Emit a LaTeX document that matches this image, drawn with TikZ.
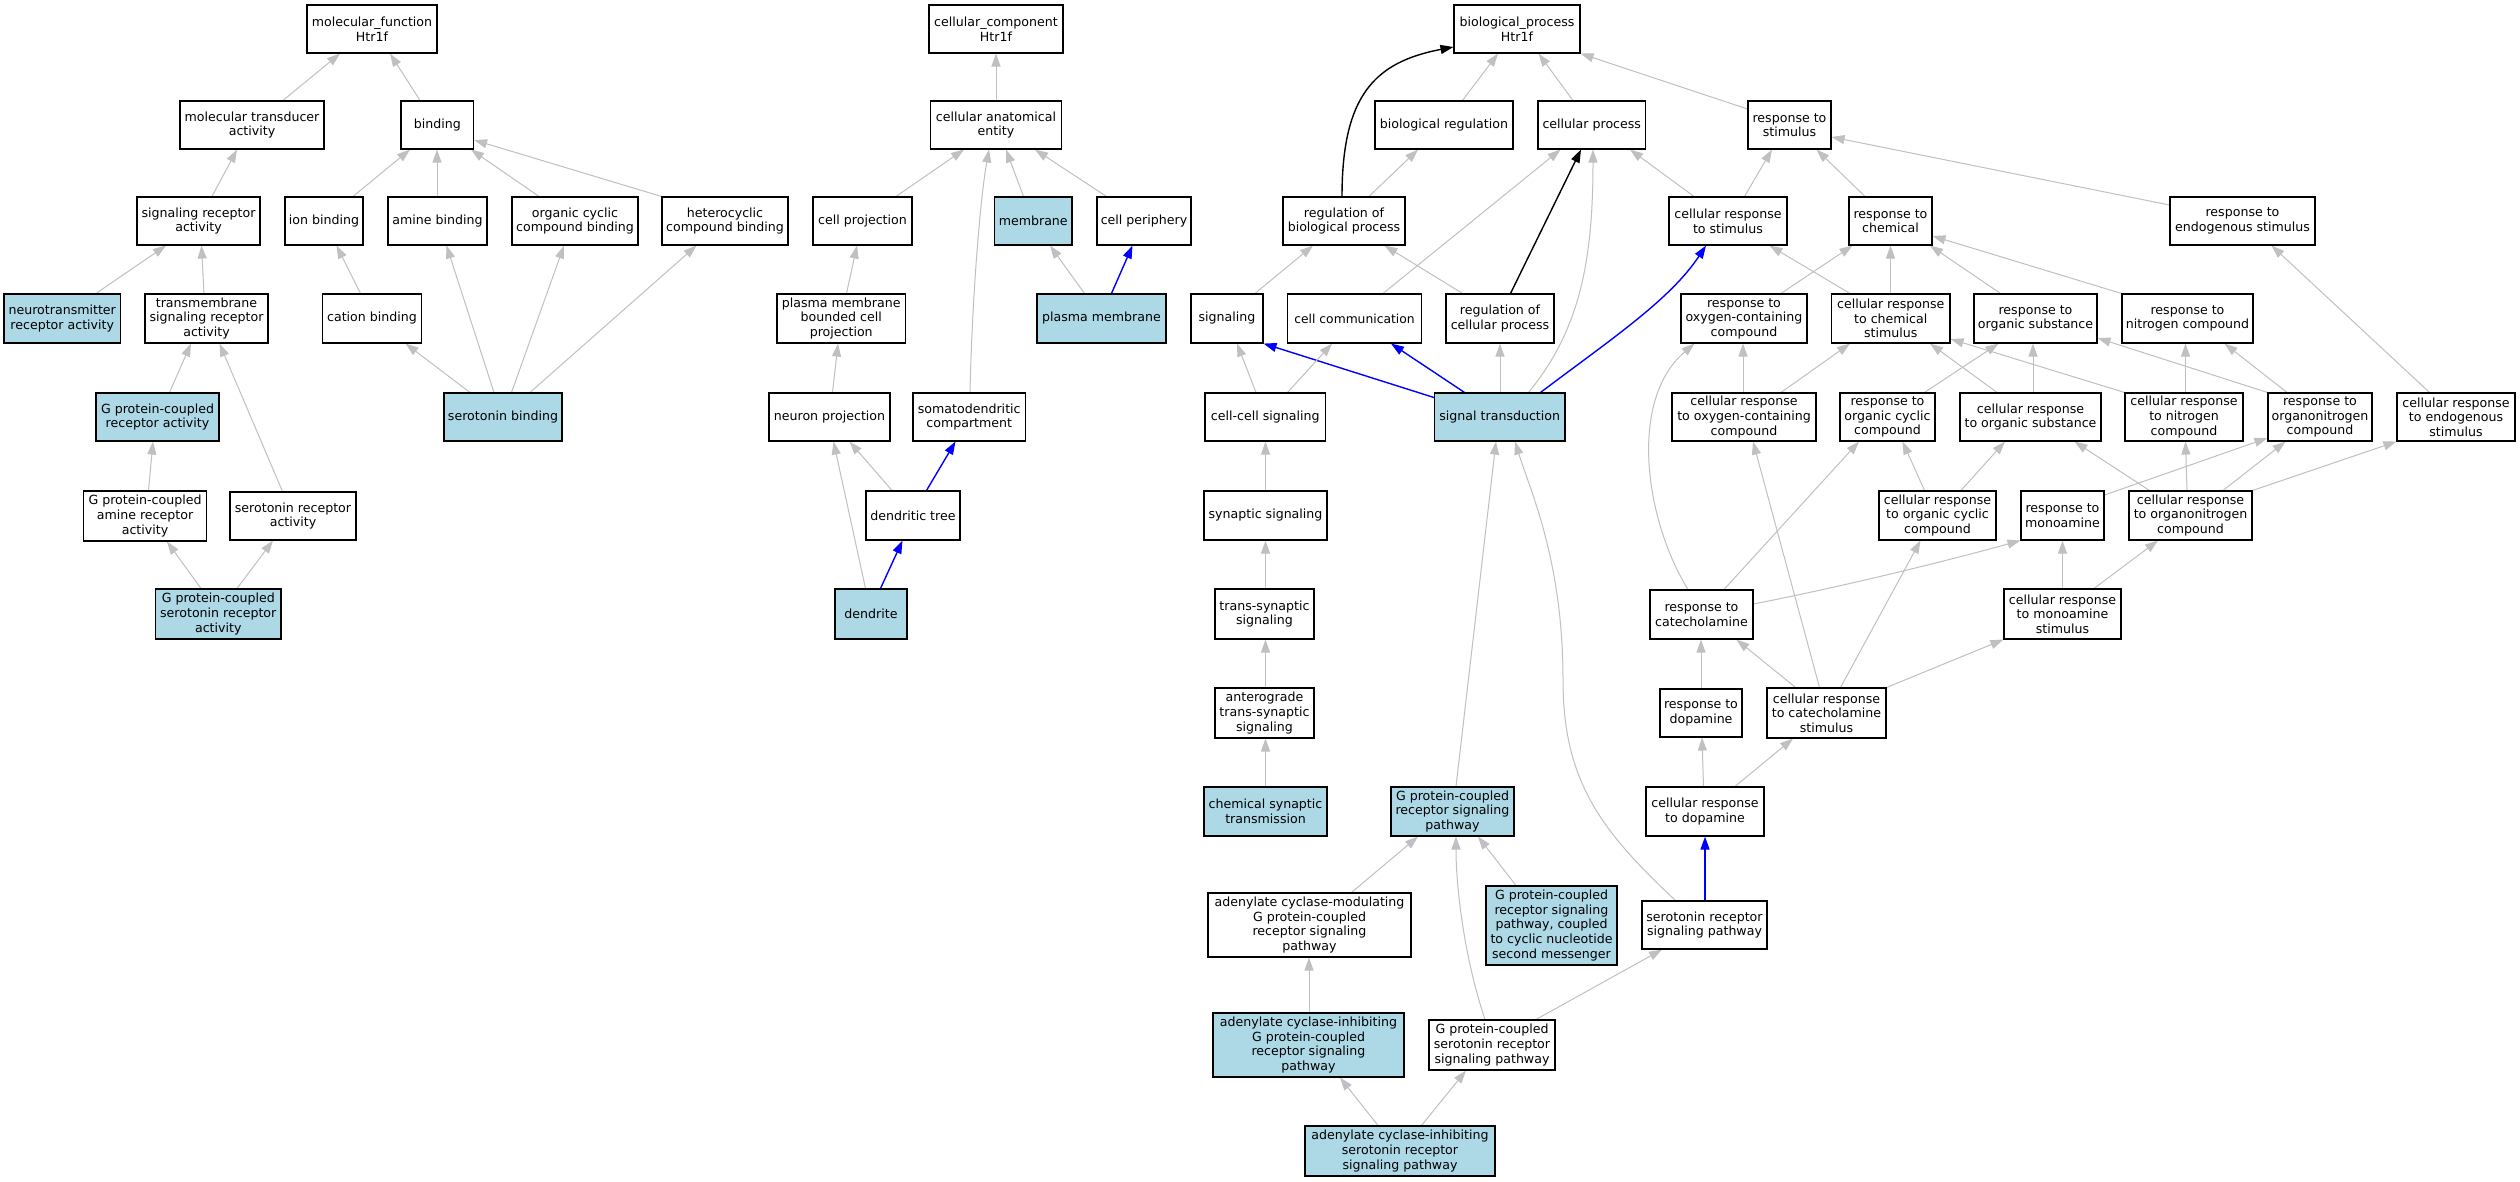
\documentclass[tikz,border=0pt]{standalone}
\usepackage{fontspec}
\setmainfont{DejaVu Sans}
\usetikzlibrary{arrows.meta}
\definecolor{edgegray}{RGB}{192,192,192}
\definecolor{lblue}{RGB}{173,216,230}
\pgfdeclarelayer{bg}
\pgfdeclarelayer{edges}
\pgfsetlayers{bg,edges,main}
\newcommand\gonode[7]{\node[#7,minimum width={(#3)-(#2)},minimum height={(#5)-(#4)}] (#1) at ({((#2)+(#3))/2},{((#4)+(#5))/2}) {#6};}
\tikzset{
  box/.style={draw=black, line width=1.1pt, rectangle, inner sep=0pt, align=center, fill=white,
    font=\fontsize{12.6}{14.6}\selectfont},
  boxb/.style={box, fill=lblue},
  ge/.style={draw=edgegray, line width=1pt, -{Triangle[length=13pt,width=9pt,fill=edgegray]}},
  be/.style={draw=blue, line width=1.4pt, -{Triangle[length=13pt,width=9pt,fill=blue]}},
  ke/.style={draw=black, line width=1.4pt, -{Triangle[length=13pt,width=9pt,fill=black]}},
}
\begin{document}
\begin{tikzpicture}[x=1pt,y=-1pt]
\useasboundingbox (0,0) rectangle (2520,1181);
\begin{pgfonlayer}{bg}
\fill[white] (0,0) rectangle (2520,1181);
\end{pgfonlayer}
% ---------- molecular function ----------
\gonode{mf}{307}{437}{5}{53}{molecular\_function\\Htr1f}{box}
\gonode{mta}{180}{324}{101}{149}{molecular transducer\\activity}{box}
\gonode{bind}{401}{473.5}{101}{149}{binding}{box}
\gonode{sra}{137}{260}{197}{245}{signaling receptor\\activity}{box}
\gonode{ionb}{285}{363}{197}{245}{ion binding}{box}
\gonode{amb}{388}{487}{197}{245}{amine binding}{box}
\gonode{ocb}{512}{638}{197}{245}{organic cyclic\\compound binding}{box}
\gonode{hcb}{662}{788}{197}{245}{heterocyclic\\compound binding}{box}
\gonode{nra}{4}{120.5}{294}{343}{neurotransmitter\\receptor activity}{boxb}
\gonode{tsra}{145}{268}{294}{343}{transmembrane\\signaling receptor\\activity}{box}
\gonode{catb}{322.5}{421.5}{294}{343}{cation binding}{box}
\gonode{serb}{444}{562}{393}{441}{serotonin binding}{boxb}
\gonode{gpcra}{96}{219}{393}{441}{G protein-coupled\\receptor activity}{boxb}
\gonode{gpamra}{83.5}{206.5}{491}{541}{G protein-coupled\\amine receptor\\activity}{box}
\gonode{srea}{230}{356}{492}{540}{serotonin receptor\\activity}{box}
\gonode{gpsra}{155.5}{281}{589}{639}{G protein-coupled\\serotonin receptor\\activity}{boxb}
% ---------- cellular component ----------
\gonode{cc}{929}{1063}{5}{53}{cellular\_component\\Htr1f}{box}
\gonode{cae}{930.5}{1061.5}{101}{149}{cellular anatomical\\entity}{box}
\gonode{cp}{813}{912}{197}{245}{cell projection}{box}
\gonode{memb}{994.5}{1072}{197}{245}{membrane}{boxb}
\gonode{cper}{1097}{1191}{197}{245}{cell periphery}{box}
\gonode{pmbcp}{777}{905.5}{294}{343}{plasma membrane\\bounded cell\\projection}{box}
\gonode{pm}{1037}{1166}{294}{343}{plasma membrane}{boxb}
\gonode{np}{769}{890}{393}{441}{neuron projection}{box}
\gonode{sdc}{913}{1025.5}{393}{441}{somatodendritic\\compartment}{box}
\gonode{dt}{866}{960}{491}{540}{dendritic tree}{box}
\gonode{dend}{835}{907}{589}{639}{dendrite}{boxb}
% ---------- biological process ----------
\gonode{bp}{1454}{1580}{5}{53}{biological\_process\\Htr1f}{box}
\gonode{breg}{1375}{1513}{101}{149}{biological regulation}{box}
\gonode{cpr}{1538}{1645.5}{101}{149}{cellular process}{box}
\gonode{rs}{1748}{1831}{101}{149}{response to\\stimulus}{box}
\gonode{rbp}{1283}{1405}{197}{245}{regulation of\\biological process}{box}
\gonode{crs}{1669}{1787}{197}{245}{cellular response\\to stimulus}{box}
\gonode{rc}{1849}{1932}{197}{245}{response to\\chemical}{box}
\gonode{res}{2170}{2315}{197}{245}{response to\\endogenous stimulus}{box}
\gonode{sig}{1191}{1263}{294}{343}{signaling}{box}
\gonode{ccom}{1287.5}{1421.5}{294}{343}{\fontsize{12.3}{14.6}\selectfont cell communication}{box}
\gonode{rcp}{1446}{1554}{294}{343}{regulation of\\cellular process}{box}
\gonode{roc}{1681}{1807}{294}{343}{response to\\oxygen-containing\\compound}{box}
\gonode{crcs}{1831.5}{1950}{294}{343}{cellular response\\to chemical\\stimulus}{box}
\gonode{ros}{1974}{2097}{294}{343}{response to\\organic substance}{box}
\gonode{rnc}{2122}{2253}{294}{343}{response to\\nitrogen compound}{box}
\gonode{ccs}{1205}{1325.5}{393}{441}{cell-cell signaling}{box}
\gonode{st}{1434.5}{1565}{393}{441}{signal transduction}{boxb}
\gonode{croc}{1672}{1816}{393}{441}{cellular response\\to oxygen-containing\\compound}{box}
\gonode{rocc}{1840}{1935}{393}{441}{response to\\organic cyclic\\compound}{box}
\gonode{cros}{1960}{2101}{393}{441}{cellular response\\to organic substance}{box}
\gonode{crnc}{2125}{2243}{393}{441}{cellular response\\to nitrogen\\compound}{box}
\gonode{ronc}{2268}{2372}{393}{441}{response to\\organonitrogen\\compound}{box}
\gonode{cres}{2397}{2515}{393}{441}{cellular response\\to endogenous\\stimulus}{box}
\gonode{syns}{1204}{1327}{491}{540}{synaptic signaling}{box}
\gonode{crocc}{1879}{1996}{491}{540}{cellular response\\to organic cyclic\\compound}{box}
\gonode{rma}{2021}{2104}{491}{540}{response to\\monoamine}{box}
\gonode{cronc}{2129}{2252}{491}{540}{cellular response\\to organonitrogen\\compound}{box}
\gonode{tss}{1215}{1314}{589}{639}{trans-synaptic\\signaling}{box}
\gonode{rcat}{1650}{1753}{590}{639}{response to\\catecholamine}{box}
\gonode{crms}{2004}{2121}{589}{639}{cellular response\\to monoamine\\stimulus}{box}
\gonode{atss}{1215}{1314}{688}{738}{anterograde\\trans-synaptic\\signaling}{box}
\gonode{rdop}{1660}{1742}{689}{737}{response to\\dopamine}{box}
\gonode{crcat}{1767}{1886}{688}{738}{cellular response\\to catecholamine\\stimulus}{box}
\gonode{cst}{1204}{1327}{787}{836}{chemical synaptic\\transmission}{boxb}
\gonode{gpcrsp}{1391}{1514}{787}{836}{G protein-coupled\\receptor signaling\\pathway}{boxb}
\gonode{crdop}{1646}{1764}{787}{836}{cellular response\\to dopamine}{box}
\gonode{acm}{1208}{1411}{893}{957}{adenylate cyclase-modulating\\G protein-coupled\\receptor signaling\\pathway}{box}
\gonode{gpcn}{1486}{1617}{886}{965}{G protein-coupled\\receptor signaling\\pathway, coupled\\to cyclic nucleotide\\second messenger}{boxb}
\gonode{srsp}{1642}{1767}{901}{949}{serotonin receptor\\signaling pathway}{box}
\gonode{aci}{1213}{1404}{1013}{1077}{adenylate cyclase-inhibiting\\G protein-coupled\\receptor signaling\\pathway}{boxb}
\gonode{gpsrsp}{1429}{1555}{1020}{1070}{G protein-coupled\\serotonin receptor\\signaling pathway}{box}
\gonode{acisr}{1305}{1495}{1126}{1176}{adenylate cyclase-inhibiting\\serotonin receptor\\signaling pathway}{boxb}

\begin{pgfonlayer}{edges}
% MF edges
\draw[ge] (mta.north -| 283,0) -- (mf.south -| 340,0);
\draw[ge] (bind.north -| 420,0) -- (mf.south -| 390,0);
\draw[ge] (sra.north -| 212,0) -- (mta.south -| 237,0);
\draw[ge] (ionb.north -| 353,0) -- (bind.south -| 410,0);
\draw[ge] (amb.north -| 437,0) -- (bind.south -| 437,0);
\draw[ge] (ocb.north -| 539,0) -- (bind.south -| 471,0);
\draw[ge] (hcb.north west) -- (bind.east |- 0,140);
\draw[ge] (nra.north -| 96,0) -- (sra.south -| 166,0);
\draw[ge] (tsra.north -| 204,0) -- (sra.south -| 201.5,0);
\draw[ge] (catb.north -| 360.5,0) -- (ionb.south -| 336.5,0);
\draw[ge] (serb.north -| 470,0) -- (catb.south -| 405.5,0);
\draw[ge] (serb.north -| 494,0) -- (amb.south -| 446.5,0);
\draw[ge] (serb.north -| 511.5,0) -- (ocb.south -| 564,0);
\draw[ge] (serb.north -| 530,0) -- (hcb.south -| 696.5,0);
\draw[ge] (gpcra.north -| 169.5,0) -- (tsra.south -| 191,0);
\draw[ge] (srea.north -| 282.5,0) -- (tsra.south -| 219.5,0);
\draw[ge] (gpamra.north -| 148.5,0) -- (gpcra.south -| 153,0);
\draw[ge] (gpsra.north -| 201,0) -- (gpamra.south -| 167,0);
\draw[ge] (gpsra.north -| 237,0) -- (srea.south -| 273,0);
% CC edges
\draw[ge] (cae.north -| 996,0) -- (cc.south -| 996,0);
\draw[ge] (cp.north -| 896,0) -- (cae.south -| 964,0);
\draw[ge] (memb.north -| 1023.5,0) -- (cae.south -| 1006,0);
\draw[ge] (cper.north -| 1106.5,0) -- (cae.south -| 1035,0);
\draw[ge] (sdc.north -| 970,0) .. controls (972,300) and (980,200) .. (cae.south -| 989,0);
\draw[ge] (pmbcp.north -| 846.5,0) -- (cp.south -| 857,0);
\draw[ge] (pm.north -| 1084.5,0) -- (memb.south -| 1050,0);
\draw[be] (pm.north -| 1111.5,0) -- (cper.south -| 1132.5,0);
\draw[ge] (np.north -| 832.5,0) -- (pmbcp.south -| 838,0);
\draw[ge] (dt.north -| 892,0) -- (np.south -| 849.5,0);
\draw[be] (dt.north -| 926.5,0) -- (sdc.south -| 955.5,0);
\draw[ge] (dend.north -| 865.5,0) -- (np.south -| 833.5,0);
\draw[be] (dend.north -| 880.5,0) -- (dt.south -| 902.5,0);
% BP edges
\draw[ge] (breg.north -| 1462.5,0) -- (bp.south -| 1498,0);
\draw[ge] (cpr.north -| 1573,0) -- (bp.south -| 1538.5,0);
\draw[ge] (rs.west |- 0,109) -- (bp.south east);
\draw[ke] (rbp.north -| 1342,0) .. controls (1342,95) and (1375,62) .. (bp.west |- 0,47);
\draw[ge] (rbp.north -| 1369,0) -- (breg.south -| 1418,0);
\draw[ge] (crs.north -| 1694,0) -- (cpr.south -| 1630,0);
\draw[ge] (crs.north -| 1744.5,0) -- (rs.south -| 1772,0);
\draw[ge] (rc.north -| 1865,0) -- (rs.south -| 1816.5,0);
\draw[ge] (res.west |- 0,205) -- (rs.east |- 0,137);
\draw[ge] (sig.north -| 1255,0) -- (rbp.south -| 1313,0);
\draw[ge] (ccom.north -| 1383,0) -- (cpr.south -| 1560.5,0);
\draw[ge] (rcp.north -| 1462.5,0) -- (rbp.south -| 1384.5,0);
\draw[ke] (rcp.north -| 1510.5,0) -- (cpr.south -| 1581,0);
\draw[ge] (st.north -| 1528.5,0) .. controls (1580,330) and (1593,260) .. (cpr.south -| 1593,0);
\draw[be] (st.west |- 0,397.5) -- (sig.south east);
\draw[be] (st.north -| 1464.5,0) -- (ccom.south -| 1391,0);
\draw[ge] (st.north -| 1500,0) -- (rcp.south -| 1500,0);
\draw[be] (st.north -| 1540.5,0) .. controls (1610,340) and (1670,300) .. (crs.south -| 1706,0);
\draw[ge] (ccs.north -| 1256,0) -- (sig.south -| 1237,0);
\draw[ge] (ccs.north -| 1287.5,0) -- (ccom.south -| 1332,0);
\draw[ge] (roc.north -| 1781,0) -- (rc.south -| 1852.5,0);
\draw[ge] (crcs.north -| 1850,0) -- (crs.south -| 1769.5,0);
\draw[ge] (crcs.north -| 1890.5,0) -- (rc.south -| 1890.5,0);
\draw[ge] (ros.north -| 2000.5,0) -- (rc.south -| 1930,0);
\draw[ge] (rnc.north west) -- (rc.east |- 0,236);
\draw[ge] (croc.north -| 1743,0) -- (roc.south -| 1743,0);
\draw[ge] (croc.north -| 1781,0) -- (crcs.south -| 1850,0);
\draw[ge] (rocc.north -| 1924.5,0) -- (ros.south -| 1998.5,0);
\draw[ge] (cros.north -| 2033,0) -- (ros.south -| 2033,0);
\draw[ge] (cros.north -| 1997,0) -- (crcs.south -| 1930,0);
\draw[ge] (crnc.north -| 2185.5,0) -- (rnc.south -| 2185.5,0);
\draw[ge] (crnc.north west) -- (crcs.east |- 0,339);
\draw[ge] (ronc.north west) -- (ros.east |- 0,338);
\draw[ge] (ronc.north -| 2287,0) -- (rnc.south -| 2224.5,0);
\draw[ge] (cres.north -| 2429.5,0) -- (res.south -| 2271.5,0);
\draw[ge] (crocc.north -| 1924.5,0) -- (rocc.south -| 1902.5,0);
\draw[ge] (crocc.north -| 1961,0) -- (cros.south -| 2005,0);
\draw[ge] (rma.east |- 0,495) -- (ronc.west |- 0,438);
\draw[ge] (cronc.north -| 2149.5,0) -- (cros.south -| 2074.5,0);
\draw[ge] (cronc.north -| 2187,0) -- (crnc.south -| 2185.5,0);
\draw[ge] (cronc.north -| 2223,0) -- (ronc.south -| 2285.5,0);
\draw[ge] (cronc.north east) -- (cres.south west);
\draw[ge] (crms.north -| 2062.5,0) -- (rma.south -| 2062.5,0);
\draw[ge] (crms.north -| 2094,0) -- (cronc.south -| 2158,0);
\draw[ge] (crcat.north east) -- (crms.south west);
\draw[ge] (crcat.north -| 1840.5,0) -- (crocc.south -| 1920.5,0);
\draw[ge] (rcat.east |- 0,604) .. controls (1850,585) and (1950,560) .. (rma.south west);
\draw[ge] (rcat.north -| 1724,0) -- (rocc.south -| 1859,0);
\draw[ge] (rcat.north -| 1688,0) .. controls (1645,520) and (1628,400) .. (roc.south -| 1694.5,0);
\draw[ge] (rdop.north -| 1701,0) -- (rcat.south -| 1701,0);
\draw[ge] (crcat.north -| 1795.5,0) -- (rcat.south -| 1736.5,0);
\draw[ge] (crcat.north -| 1819.5,0) -- (croc.south -| 1753,0);
\draw[ge] (crdop.north -| 1703.5,0) -- (rdop.south -| 1702,0);
\draw[ge] (crdop.north -| 1735,0) -- (crcat.south -| 1793,0);
\draw[be] (srsp.north -| 1705,0) -- (crdop.south -| 1705,0);
\draw[ge] (srsp.north -| 1675.5,0) .. controls (1600,830) and (1563,780) .. (1563,680) .. controls (1563,560) and (1530,490) .. (st.south -| 1515,0);
\draw[ge] (syns.north -| 1265.5,0) -- (ccs.south -| 1265.5,0);
\draw[ge] (tss.north -| 1265.5,0) -- (syns.south -| 1265.5,0);
\draw[ge] (atss.north -| 1265.5,0) -- (tss.south -| 1265.5,0);
\draw[ge] (cst.north -| 1265.5,0) -- (atss.south -| 1265.5,0);
\draw[ge] (gpcrsp.north -| 1456,0) -- (st.south -| 1496,0);
\draw[ge] (acm.north -| 1351.5,0) -- (gpcrsp.south -| 1418,0);
\draw[ge] (gpcn.north -| 1516,0) -- (gpcrsp.south -| 1478,0);
\draw[ge] (aci.north -| 1309,0) -- (acm.south -| 1309,0);
\draw[ge] (gpsrsp.north -| 1485,0) .. controls (1465,960) and (1456,890) .. (gpcrsp.south -| 1456,0);
\draw[ge] (gpsrsp.north -| 1536,0) -- (srsp.south -| 1662,0);
\draw[ge] (acisr.north -| 1378,0) -- (aci.south -| 1340,0);
\draw[ge] (acisr.north -| 1421.5,0) -- (gpsrsp.south -| 1466,0);
\end{pgfonlayer}
\end{tikzpicture}
\end{document}
